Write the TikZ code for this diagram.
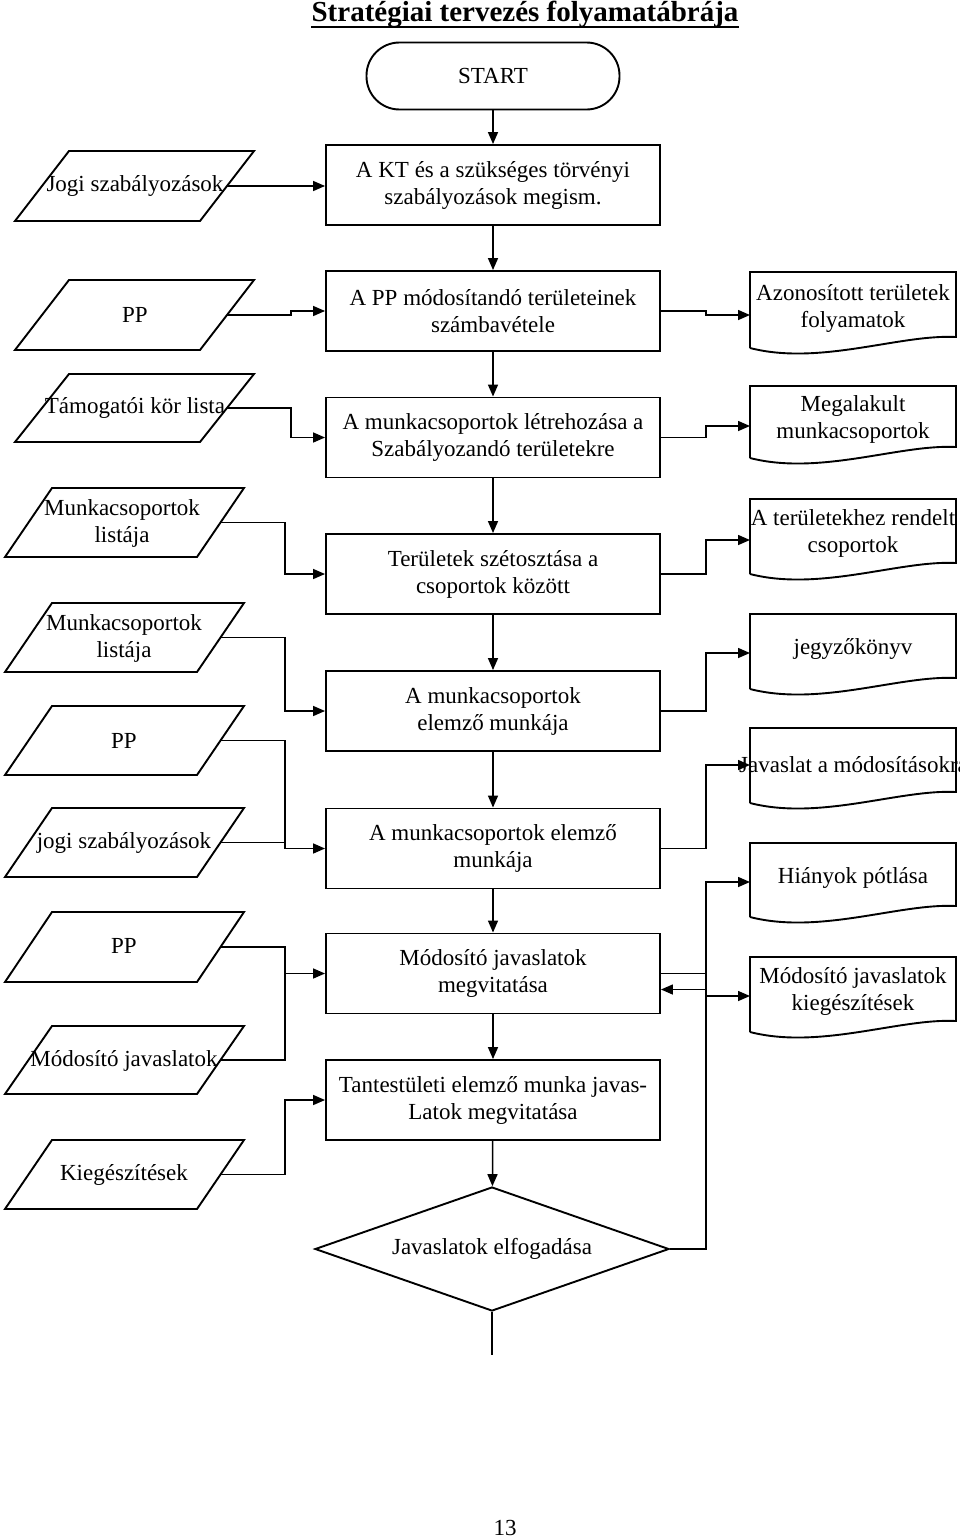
\documentclass[tikz,border=0pt]{standalone}
\usepackage{fontspec}
\setmainfont{Liberation Serif}
\usetikzlibrary{arrows.meta,shapes.geometric,calc}
% parallelogram: name, bottom-left x, bottom-right x, slant, top y, bottom y, text x, text y, text
\newcommand\paral[9]{%
  \draw[shp] (#2,#6) -- (#3,#6) -- ({#3+#4},#5) -- ({#2+#4},#5) -- cycle;
  \coordinate (#1-e) at ({#3+#4/2},{(#5+#6)/2});
  \node[txt] (#1) at (#7,#8) {#9};
}
% document: name, top y, left-bottom y, arrival y
\newcommand\docshape[4]{%
  \draw[shp] (750,#3) -- (750,#2) -- (956,#2) -- (956,{#3-11})
    .. controls (900,{#3-14}) and (820,{#3+18}) .. (750,#3);
  \coordinate (#1-w) at (750,#4);
}
\begin{document}
\begin{tikzpicture}[x=1pt,y=-1pt,
  every node/.style={font=\fontsize{23}{27}\selectfont, inner sep=0pt},
  shp/.style={draw, line width=1.9pt},
  box/.style={shp, rectangle, minimum width=334pt, minimum height=80pt, align=center},
  txt/.style={align=center},
  arr/.style={line width=1.5pt, -{Triangle[length=12pt,width=10pt]}},
  ln/.style={line width=1.5pt}]
\useasboundingbox (0,0) rectangle (960,1539);

% title
\node[anchor=base] (title) at (525,21) {\bfseries\fontsize{29}{34}\selectfont Stratégiai tervezés folyamatábrája};
\draw[line width=1.8pt] ($(title.base west)+(0,6)$) -- ($(title.base east)+(0,6)$);

% central column
\node[shp, rectangle, rounded corners=33pt, minimum width=253pt, minimum height=67pt] (start) at (493,76) {START};
\node[box] (b1) at (493,185) {A KT és a szükséges törvényi\\szabályozások megism.};
\node[box] (b2) at (493,311) {A PP módosítandó területeinek\\számbavétele};
\node[box] (b3) at (493,437.5) {A munkacsoportok létrehozása a\\Szabályozandó területekre};
\node[box] (b4) at (493,574) {Területek szétosztása a\\csoportok között};
\node[box] (b5) at (493,711) {A munkacsoportok\\elemző munkája};
\node[box] (b6) at (493,848.5) {A munkacsoportok elemző\\munkája};
\node[box] (b7) at (493,973.5) {Módosító javaslatok\\megvitatása};
\node[box] (b8) at (493,1100) {Tantestületi elemző munka javas-\\Latok megvitatása};
\node[shp, diamond, minimum width=354pt, minimum height=124pt, aspect=2.85] (dm) at (492,1249) {Javaslatok elfogadása};
\coordinate (dmend) at (492,1355);

\draw[arr] (start) -- (b1);
\draw[arr] (b1) -- (b2);
\draw[arr] (b2) -- (b3);
\draw[arr] (b3) -- (b4);
\draw[arr] (b4) -- (b5);
\draw[arr] (b5) -- (b6);
\draw[arr] (b6) -- (b7);
\draw[arr] (b7) -- (b8);
\draw[arr] (b8) -- (dm);
\draw[ln] (dm.south) -- (dmend);

% left inputs
\paral{j1}{15}{200}{54}{151}{221}{135}{186}{Jogi szabályozások}
\draw[arr] (j1-e) -- (j1-e -| b1.west);
\paral{p1}{15}{200}{54}{280}{350}{135}{315}{PP}
\draw[arr] (p1-e) -| ($(b2.west)+(-34,0)$) -- (b2.west);
\paral{t1}{15}{200}{54}{374}{442}{135}{408}{Támogatói kör lista}
\draw[arr] (t1-e) -| ($(b3.west)+(-34,0)$) -- (b3.west);
\paral{m1}{5}{197}{47}{488}{557}{122}{523}{Munkacsoportok\\listája}
\draw[arr] (m1-e) -| ($(b4.west)+(-40,0)$) -- (b4.west);
\paral{m2}{5}{197}{47}{603}{672}{124}{638}{Munkacsoportok\\listája}
\draw[arr] (m2-e) -| ($(b5.west)+(-40,0)$) -- (b5.west);
\paral{pp3}{5}{197}{47}{706}{775}{124}{741}{PP}
\paral{js}{5}{197}{47}{808}{877}{124}{843}{jogi szabályozások}
\draw[arr] (pp3-e) -| ($(b6.west)+(-40,0)$) -- (b6.west);
\draw[ln] (js-e) -| ($(b6.west)+(-40,0)$);
\paral{pp4}{5}{197}{47}{912}{982}{124}{946}{PP}
\paral{mj}{5}{197}{47}{1026}{1094}{124}{1061}{Módosító javaslatok}
\draw[arr] (pp4-e) -| ($(b7.west)+(-40,0)$) -- (b7.west);
\draw[ln] (mj-e) -| ($(b7.west)+(-40,0)$);
\paral{kg}{5}{197}{47}{1140}{1209}{124}{1175}{Kiegészítések}
\draw[arr] (kg-e) -| ($(b8.west)+(-40,0)$) -- (b8.west);

% right outputs
\docshape{d1}{272}{348}{315}
\node[txt] (d1t) at (853,308) {Azonosított területek\\folyamatok};
\docshape{d2}{386}{458}{426}
\node[txt] (d2t) at (853,419.5) {Megalakult\\munkacsoportok};
\docshape{d3}{499}{574}{540}
\node[txt] (d3t) at (853,533.5) {A területekhez rendelt\\csoportok};
\docshape{d4}{614}{689}{653}
\node[txt] (d4t) at (853,649) {jegyzőkönyv};
\docshape{d5}{728}{803}{765}
\node[txt, anchor=west] (d5t) at (739,765) {Javaslat a módosításokra};
\docshape{d6}{843}{917}{882}
\node[txt] (d6t) at (853,878) {Hiányok pótlása};
\docshape{d7}{957}{1032}{996}
\node[txt] (d7t) at (853,991.5) {Módosító javaslatok\\kiegészítések};

\draw[arr] (b2.east) -- ++(45,0) |- (d1-w);
\draw[arr] (b3.east) -- ++(45,0) |- (d2-w);
\draw[arr] (b4.east) -- ++(45,0) |- (d3-w);
\draw[arr] (b5.east) -- ++(45,0) |- (d4-w);
\draw[arr] (b6.east) -- ++(45,0) |- (d5-w);
\draw[ln] (b7.east) -- ++(45,0) coordinate (bus7);
\draw[arr] (bus7) |- (d6-w);
\draw[arr] (bus7) |- (d7-w);
\draw[arr] (dm.east) -| ($(b7.east)+(45,16)$) -- ($(b7.east)+(0,16)$);

% page number
\node (pg) at (505,1528) {13};
\end{tikzpicture}
\end{document}
